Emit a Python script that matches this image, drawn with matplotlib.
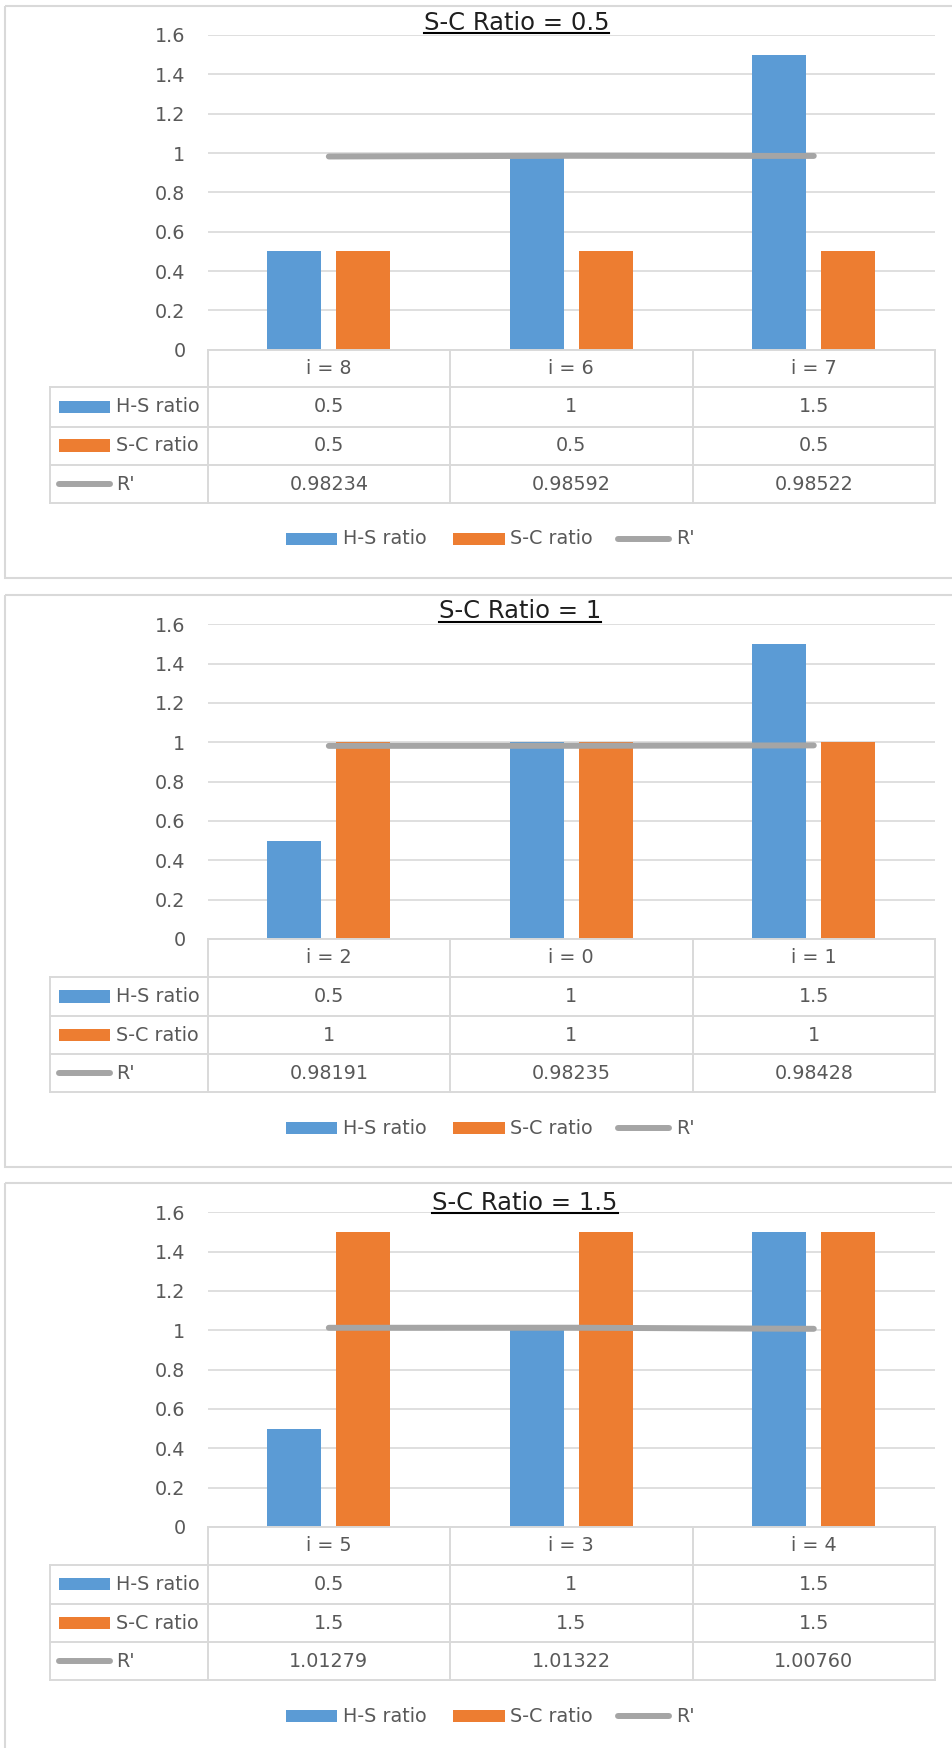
import matplotlib
matplotlib.use("Agg")
import matplotlib.pyplot as plt
from matplotlib.patches import Rectangle
from matplotlib.lines import Line2D
from matplotlib.transforms import Affine2D, blended_transform_factory

plt.rcParams['font.family'] = ['DejaVu Sans']

# ---- data -------------------------------------------------------------
titles = ["S-C Ratio = 0.5", "S-C Ratio = 1", "S-C Ratio = 1.5"]
categories = [["i = 8", "i = 6", "i = 7"],
              ["i = 2", "i = 0", "i = 1"],
              ["i = 5", "i = 3", "i = 4"]]
hs_ratio = [[0.5, 1, 1.5],
            [0.5, 1, 1.5],
            [0.5, 1, 1.5]]
sc_ratio = [[0.5, 0.5, 0.5],
            [1, 1, 1],
            [1.5, 1.5, 1.5]]
r_prime = [[0.98234, 0.98592, 0.98522],
           [0.98191, 0.98235, 0.98428],
           [1.01279, 1.01322, 1.00760]]
series_names = ["H-S ratio", "S-C ratio", "R'"]
y_ticks = [0, 0.2, 0.4, 0.6, 0.8, 1, 1.2, 1.4, 1.6]

# ---- style ------------------------------------------------------------
BLUE = "#5B9BD5"
ORANGE = "#ED7D31"
GRAY = "#A5A5A5"
GRID = "#D9D9D9"
TXT = "#595959"
FS = 13.8

W, H = 952, 1748
fig = plt.figure(figsize=(W / 100, H / 100), dpi=100)
fig.patch.set_facecolor("white")
PX = Affine2D().scale(1 / W, -1 / H).translate(0, 1) + fig.transFigure

offsets = [0, 589.3, 1177.3]
title_x = [516.5, 520, 525]
title_base = [30, 618.5, 1210]

PLOT_L, PLOT_R = 207.6, 935
PLOT_T, PLOT_B = 35, 349.7
ROW_Y = [349.7, 387.3, 426.5, 465, 503]
TABLE_L = 50
BAR_W = 0.223
BAR_OFF = 0.142


def fmt(v):
    return f"{v:g}"


renderer = fig.canvas.get_renderer()

for k in range(3):
    dy = offsets[k]
    top = 5.5 + dy if k == 0 else [5.5, 595, 1183][k]
    fig.add_artist(Rectangle((5, top), 960, 572, transform=PX, fill=False,
                             edgecolor=GRID, lw=1.5, zorder=0))

    ax = fig.add_axes([PLOT_L / W, 1 - (PLOT_B + dy) / H,
                       (PLOT_R - PLOT_L) / W, (PLOT_B - PLOT_T) / H])
    ax.set_facecolor("none")
    x = list(range(len(categories[k])))
    ax.bar([v - BAR_OFF for v in x], hs_ratio[k], width=BAR_W, color=BLUE, zorder=2)
    ax.bar([v + BAR_OFF for v in x], sc_ratio[k], width=BAR_W, color=ORANGE, zorder=2)
    ax.plot(x, r_prime[k], color=GRAY, lw=4.3, solid_capstyle="round", zorder=3)
    ax.set_xlim(-0.5, len(x) - 0.5)
    ax.set_ylim(0, 1.6)
    ax.set_yticks(y_ticks)
    ax.set_yticklabels([fmt(t) for t in y_ticks])
    ax.set_xticks([])
    ax.tick_params(axis="y", length=0, pad=16, labelsize=FS, labelcolor=TXT)
    ax.grid(axis="y", color=GRID, lw=1.2)
    ax.set_axisbelow(True)
    for s in ax.spines.values():
        s.set_visible(False)

    # data table under the plot
    bt = blended_transform_factory(ax.transData, PX)
    rows = [r + dy for r in ROW_Y]
    edges = [v - 0.5 for v in x] + [x[-1] + 0.5]
    for e in edges:
        fig.add_artist(Line2D([e, e], [rows[0], rows[-1]], transform=bt,
                              color=GRID, lw=1.4))
    fig.add_artist(Line2D([-0.5, x[-1] + 0.5], [rows[0], rows[0]], transform=bt,
                          color=GRID, lw=1.4))
    for r in rows[1:]:
        fig.add_artist(Line2D([TABLE_L, PLOT_R], [r, r], transform=PX,
                              color=GRID, lw=1.4))
    fig.add_artist(Line2D([TABLE_L, TABLE_L], [rows[1], rows[-1]], transform=PX,
                          color=GRID, lw=1.4))

    def cy(i):
        return (rows[i] + rows[i + 1]) / 2

    for j, c in enumerate(categories[k]):
        fig.text(j, cy(0), c, transform=bt, ha="center", va="center",
                 fontsize=FS, color=TXT)
    table_rows = [[fmt(v) for v in hs_ratio[k]],
                  [fmt(v) for v in sc_ratio[k]],
                  [f"{v:.5f}" for v in r_prime[k]]]
    for i, vals in enumerate(table_rows):
        for j, s in enumerate(vals):
            fig.text(j, cy(i + 1), s, transform=bt, ha="center", va="center",
                     fontsize=FS, color=TXT)
    # row keys
    for i, (name, col) in enumerate(zip(series_names, [BLUE, ORANGE, GRAY])):
        yc = cy(i + 1)
        if i < 2:
            fig.add_artist(Rectangle((59, yc - 6.3), 51, 12.6, transform=PX,
                                     color=col, lw=0))
        else:
            fig.add_artist(Line2D([59, 110], [yc, yc], transform=PX, color=col,
                                  lw=4.3, solid_capstyle="round"))
        fig.text(116, yc, name, transform=PX, ha="left", va="center",
                 fontsize=FS, color=TXT)

    # legend
    ly = 539 + dy
    fig.add_artist(Rectangle((286, ly - 6), 51, 12, transform=PX, color=BLUE, lw=0))
    fig.text(343, ly, series_names[0], transform=PX, ha="left", va="center",
             fontsize=FS, color=TXT)
    fig.add_artist(Rectangle((453, ly - 6), 52, 12, transform=PX, color=ORANGE, lw=0))
    fig.text(510, ly, series_names[1], transform=PX, ha="left", va="center",
             fontsize=FS, color=TXT)
    fig.add_artist(Line2D([618, 669], [ly, ly], transform=PX, color=GRAY, lw=4.3,
                          solid_capstyle="round"))
    fig.text(676, ly, series_names[2], transform=PX, ha="left", va="center",
             fontsize=FS, color=TXT)

    # underlined title
    t = fig.text(title_x[k], title_base[k], titles[k], transform=PX, ha="center",
                 va="baseline", fontsize=17.5, color="#1f1f1f")
    bb = t.get_window_extent(renderer)
    uy = title_base[k] + 3
    fig.add_artist(Line2D([bb.x0, bb.x1], [uy, uy], transform=PX,
                          color="black", lw=1.5))

fig.savefig("out.png", dpi=100, facecolor="white")
